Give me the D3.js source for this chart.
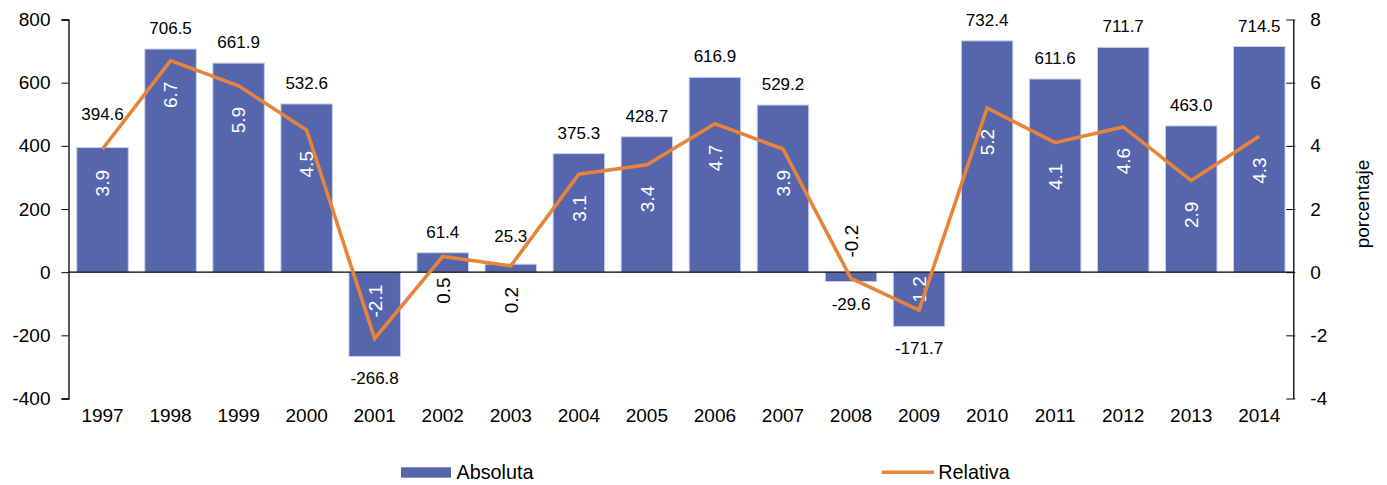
<!DOCTYPE html>
<html><head><meta charset="utf-8">
<script src="https://cdn.jsdelivr.net/npm/d3@7"></script>
<style>body{margin:0;background:#fff}svg{display:block;font-family:"Liberation Sans",Arial,Helvetica,sans-serif}</style>
</head><body>
<svg id="c" width="1387" height="485"></svg>
<script>
const years = ["1997","1998","1999","2000","2001","2002","2003","2004","2005","2006","2007","2008","2009","2010","2011","2012","2013","2014"];
const absoluta = [394.6,706.5,661.9,532.6,-266.8,61.4,25.3,375.3,428.7,616.9,529.2,-29.6,-171.7,732.4,611.6,711.7,463.0,714.5];
const relativa = [3.9,6.7,5.9,4.5,-2.1,0.5,0.2,3.1,3.4,4.7,3.9,-0.2,-1.2,5.2,4.1,4.6,2.9,4.3];
const leftTicks = [-400,-200,0,200,400,600,800];
const rightTicks = [-4,-2,0,2,4,6,8];
const legendLabels = ["Absoluta","Relativa"];
const rightTitle = "porcentaje";

const barColor = "#5566ad", lineColor = "#e8833a";
const svg = d3.select("#c");
const L = 68.5, R = 1293.3, T = 19.5, B = 398.5;
const fmt = d => String(d);

const x = d3.scaleBand().domain(years).range([L, R]).paddingInner(0.243).paddingOuter(0.1215);
const yL = d3.scaleLinear().domain([-400, 800]).range([B, T]);
const yR = d3.scaleLinear().domain([-4, 8]).range([B, T]);

const data = years.map((yr, i) => ({yr, a: absoluta[i], r: relativa[i]}));
const cx = d => x(d.yr) + x.bandwidth() / 2;
const pts = data.map(d => [cx(d), yR(d.r)]);
function lineYRange(x0, x1) {
  const ys = [];
  for (let i = 0; i < pts.length - 1; i++) {
    const [ax, ay] = pts[i], [bx, by] = pts[i + 1];
    const lo = Math.max(x0, ax), hi = Math.min(x1, bx);
    if (lo > hi) continue;
    const f = t => ay + (by - ay) * (t - ax) / (bx - ax);
    ys.push(f(lo), f(hi));
  }
  return ys.length ? [Math.min(...ys), Math.max(...ys)] : null;
}

// bars
svg.append("g").selectAll("rect").data(data).join("rect")
  .attr("x", d => x(d.yr))
  .attr("width", x.bandwidth())
  .attr("y", d => yL(Math.max(0, d.a)))
  .attr("height", d => Math.abs(yL(d.a) - yL(0)))
  .attr("fill", barColor)
  .attr("stroke", "#c9cfec").attr("stroke-width", 1);

// zero line
svg.append("line").attr("x1", L).attr("x2", R).attr("y1", yL(0)).attr("y2", yL(0))
  .attr("stroke", "#000").attr("stroke-width", 1.3);

// left axis
const gL = svg.append("g").attr("transform", `translate(${L},0)`)
  .call(d3.axisLeft(yL).tickValues(leftTicks).tickSize(7).tickPadding(11).tickFormat(fmt));
gL.selectAll("text").attr("font-size", 19).attr("fill", "#000").attr("font-family", "Liberation Sans, Arial, sans-serif");
gL.select(".domain").attr("stroke", "#000").attr("stroke-width", 1.3);

// right axis (ticks inward)
const gR = svg.append("g").attr("transform", `translate(${R},0)`)
  .call(d3.axisRight(yR).tickValues(rightTicks).tickSize(0).tickPadding(17).tickFormat(fmt));
gR.selectAll(".tick").append("line").attr("x1", -7).attr("x2", 2).attr("stroke", "#000");
gR.selectAll("text").attr("font-size", 19).attr("fill", "#000").attr("font-family", "Liberation Sans, Arial, sans-serif");
gR.select(".domain").attr("stroke", "#000").attr("stroke-width", 1.3);

// x labels
svg.append("g").selectAll("text").data(years).join("text")
  .attr("x", d => x(d) + x.bandwidth() / 2).attr("y", 422)
  .attr("text-anchor", "middle").attr("font-size", 19).text(d => d);

// right title
svg.append("text").attr("transform", `translate(1369,204) rotate(-90)`)
  .attr("text-anchor", "middle").attr("font-size", 19).text(rightTitle);

// bar value labels (shifted up if they would collide with the line)
svg.append("g").selectAll("text").data(data).join("text")
  .attr("x", cx)
  .attr("text-anchor", "middle").attr("font-size", 17).text(d => d.a.toFixed(1))
  .each(function(d) {
    let base = d.a >= 0 ? yL(d.a) - 15 : yL(d.a) + 28;
    const w = this.getComputedTextLength();
    const rng = lineYRange(cx(d) - w / 2, cx(d) + w / 2);
    const top = base - 13;
    if (rng && rng[1] > top && rng[0] < base + 2) base = rng[0] - 1.5;
    d3.select(this).attr("y", base);
  });

// line value labels (rotated)
const fs = 19;
svg.append("g").selectAll("text").data(data).join("text")
  .attr("text-anchor", "start")
  .attr("font-size", fs)
  .text(d => d.r.toFixed(1))
  .each(function(d) {
    const len = this.getComputedTextLength();
    const py = yR(d.r);
    let a, b;
    if (d.r >= 0) { a = py + 21; b = a + len; }
    else { b = py - 21; a = b - len; }
    const z = yL(0);
    if (a < z && b > z) {
      if (d.r < 0) { a = z + 4; b = a + len; } else { b = z - 4; a = b - len; }
    }
    const top = yL(Math.max(0, d.a)), bot = yL(Math.min(0, d.a));
    const inside = a >= top - 2 && b <= bot + 2;
    d3.select(this)
      .attr("transform", `translate(${cx(d) + fs * 0.36},${b}) rotate(-90)`)
      .attr("fill", inside ? "#fff" : "#000");
  });

// line
svg.append("path").datum(data)
  .attr("d", d3.line().x(cx).y(d => yR(d.r)))
  .attr("fill", "none").attr("stroke", lineColor).attr("stroke-width", 3.6).attr("stroke-linejoin", "miter");

// legend
const lg = svg.append("g");
lg.append("rect").attr("x", 401).attr("y", 467.3).attr("width", 50).attr("height", 10.4).attr("fill", barColor);
lg.append("text").attr("x", 456.5).attr("y", 479).attr("font-size", 19.8).text(legendLabels[0]);
lg.append("line").attr("x1", 881.7).attr("x2", 934).attr("y1", 472.3).attr("y2", 472.3).attr("stroke", lineColor).attr("stroke-width", 3.6);
lg.append("text").attr("x", 938.3).attr("y", 479).attr("font-size", 19.8).text(legendLabels[1]);
</script>
</body></html>
